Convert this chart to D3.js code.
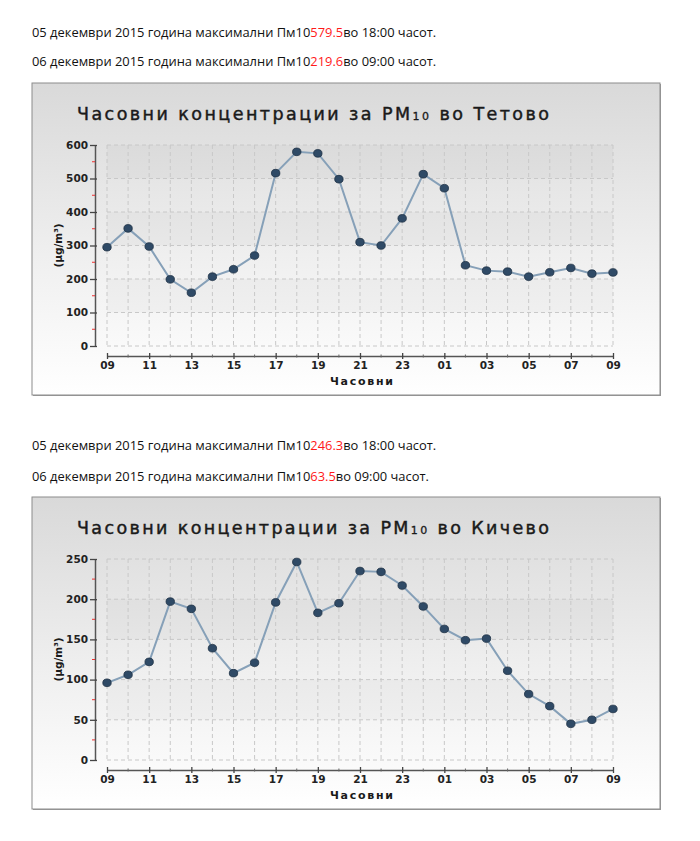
<!DOCTYPE html>
<html lang="mk">
<head>
<meta charset="UTF-8">
<title>Часовни концентрации PM10</title>
<style>
  body { margin: 0; background: #fff; }
  svg { display: block; }
</style>
<script src="https://cdn.jsdelivr.net/npm/d3@7"></script>
</head>
<body>
<div id="page"></div>
<script>
// hours on the x axis (24h window, 09 -> 09 next day)
var hourLabels = ['09','10','11','12','13','14','15','16','17','18','19','20','21','22','23',
                  '00','01','02','03','04','05','06','07','08','09'];

var tetovoValues  = [295, 351, 297, 199, 159, 207, 229, 270, 516, 579.5, 575, 498, 310, 300, 381,
                     513, 471, 241, 225, 222, 207, 220, 233, 216, 219.6];
var kichevoValues = [96, 106, 122, 197, 188, 139, 108, 121, 196, 246.3, 183, 195, 235, 234, 217,
                     191, 163, 149, 151, 111, 82, 67, 45, 50, 63.5];

var stations   = ['Тетово', 'Кичево'];
var yMaxes     = [600, 250];
var yMajorStep = [100, 50];

var headerDates  = ['05 декември 2015', '06 декември 2015'];
var tetovoMax    = ['579.5', '219.6'];
var kichevoMax   = ['246.3', '63.5'];
var maxHours     = ['18:00', '09:00'];

var W = 700, H = 841;

var svg = d3.select('#page').append('svg')
    .attr('width', W)
    .attr('height', H);

var defs = svg.append('defs');
var grad = defs.append('linearGradient')
    .attr('id', 'boxGrad')
    .attr('x1', 0).attr('y1', 0).attr('x2', 0).attr('y2', 1);
grad.append('stop').attr('offset', '0%').attr('stop-color', '#d9d9d9');
grad.append('stop').attr('offset', '55%').attr('stop-color', '#efefef');
grad.append('stop').attr('offset', '100%').attr('stop-color', '#ffffff');

function header(y, date, value, hour) {
    var t = svg.append('text')
        .attr('x', 32)
        .attr('y', y)
        .style('font-family', '"Open Sans", sans-serif')
        .style('font-size', '12.9px')
        .style('fill', '#111');
    t.append('tspan').text(date + ' година максимални Пм10');
    t.append('tspan').style('fill', '#ff1a1a').text(value);
    t.append('tspan').text('во ' + hour + ' часот.');
}

function drawChart(top, station, values, yMax, step) {
    var left = 32, right = 660, boxH = 312;
    var g = svg.append('g');

    g.append('rect')
        .attr('x', left + 1).attr('y', top + 1)
        .attr('width', right - left).attr('height', boxH)
        .attr('fill', '#9a9a9a');
    g.append('rect')
        .attr('x', left).attr('y', top)
        .attr('width', right - left).attr('height', boxH)
        .attr('fill', 'url(#boxGrad)')
        .attr('stroke', '#8c8c8c')
        .attr('stroke-width', 1);

    var x = d3.scaleLinear().domain([0, hourLabels.length - 1]).range([107, 613]);
    var y = d3.scaleLinear().domain([0, yMax]).range([top + 263, top + 62]);

    // alternating bands
    var bands = d3.range(0, yMax, step).filter(function (d, i) { return i % 2 === 1; });
    g.selectAll('.band').data(bands).join('rect')
        .attr('x', x(0)).attr('width', x(hourLabels.length - 1) - x(0))
        .attr('y', function (d) { return y(d + step); })
        .attr('height', function (d) { return y(d) - y(d + step); })
        .attr('fill', '#000').attr('fill-opacity', 0.025);

    // grid
    g.selectAll('.vgrid').data(d3.range(hourLabels.length)).join('line')
        .attr('x1', function (d) { return x(d); }).attr('x2', function (d) { return x(d); })
        .attr('y1', y(yMax)).attr('y2', y(0))
        .attr('stroke', '#c8c8c8').attr('stroke-dasharray', '4,3');
    g.selectAll('.hgrid').data(d3.range(0, yMax + 1, step)).join('line')
        .attr('x1', x(0)).attr('x2', x(hourLabels.length - 1))
        .attr('y1', function (d) { return y(d); }).attr('y2', function (d) { return y(d); })
        .attr('stroke', '#c8c8c8').attr('stroke-dasharray', '4,3');

    // title
    var title = g.append('text')
        .attr('x', 77).attr('y', top + 37)
        .attr('textLength', 472).attr('lengthAdjust', 'spacing')
        .style('font-family', '"DejaVu Sans", sans-serif')
        .style('font-size', '17.5px')
        .style('fill', '#1a1a1a')
        .style('stroke', '#1a1a1a').style('stroke-width', 0.45);
    title.append('tspan').text('Часовни концентрации за PM');
    title.append('tspan').style('font-size', '11px').style('stroke-width', 0.3).text('10');
    title.append('tspan').text(' во ' + station);

    var tickFont = function (sel) {
        sel.style('font-family', '"DejaVu Sans", sans-serif')
            .style('font-weight', 'bold').style('font-size', '10.5px').style('fill', '#222');
    };

    // y axis
    var yAxis = d3.axisLeft(y).tickValues(d3.range(0, yMax + 1, step))
        .tickSizeInner(5).tickSizeOuter(0).tickPadding(2);
    var ya = g.append('g').attr('transform', 'translate(95,0)').call(yAxis);
    ya.select('.domain').attr('stroke', '#555').attr('stroke-width', 1.5);
    ya.selectAll('.tick line').attr('stroke', '#444').attr('x2', -5).attr('x1', 2).attr('stroke-width', 1.3);
    ya.selectAll('.tick text').call(tickFont);
    ya.selectAll('.minor').data(d3.range(step / 2, yMax, step)).join('line')
        .attr('x1', -3).attr('x2', 0)
        .attr('y1', function (d) { return y(d); }).attr('y2', function (d) { return y(d); })
        .attr('stroke', '#f03030').attr('stroke-width', 1);

    // x axis
    var xAxis = d3.axisBottom(x)
        .tickValues(d3.range(0, hourLabels.length, 2))
        .tickFormat(function (d) { return hourLabels[d]; })
        .tickSizeInner(3).tickSizeOuter(0).tickPadding(3);
    var xa = g.append('g').attr('transform', 'translate(0,' + (top + 273) + ')').call(xAxis);
    xa.select('.domain').attr('stroke', '#555').attr('stroke-width', 1.5);
    xa.selectAll('.tick line').attr('stroke', '#444').attr('y1', -3).attr('y2', 3).attr('stroke-width', 1.3);
    xa.selectAll('.tick text').call(tickFont);
    xa.selectAll('.minor').data(d3.range(1, hourLabels.length, 2)).join('line')
        .attr('x1', function (d) { return x(d); }).attr('x2', function (d) { return x(d); })
        .attr('y1', -1.5).attr('y2', 1.5)
        .attr('stroke', '#666');

    // axis titles
    g.append('text')
        .attr('x', 330).attr('y', top + 302)
        .attr('textLength', 63).attr('lengthAdjust', 'spacing')
        .style('font-family', '"DejaVu Sans", sans-serif')
        .style('font-weight', 'bold').style('font-size', '11px').style('fill', '#1a1a1a')
        .text('Часовни');
    g.append('text')
        .attr('transform', 'translate(62,' + ((y(0) + y(yMax)) / 2) + ') rotate(-90)')
        .attr('text-anchor', 'middle')
        .style('font-family', '"DejaVu Sans", sans-serif')
        .style('font-weight', 'bold').style('font-size', '10.5px').style('fill', '#1a1a1a')
        .text('(µg/m³)');

    // series
    var line = d3.line()
        .x(function (d, i) { return x(i); })
        .y(function (d) { return y(d); });
    g.append('path').datum(values)
        .attr('d', line)
        .attr('fill', 'none')
        .attr('stroke', '#86a0b8')
        .attr('stroke-width', 2);
    g.selectAll('.dot').data(values).join('ellipse')
        .attr('cx', function (d, i) { return x(i); })
        .attr('cy', function (d) { return y(d); })
        .attr('rx', 4.2).attr('ry', 3.8)
        .attr('fill', '#2f4a66')
        .attr('stroke', '#1d3044').attr('stroke-width', 0.8);
}

header(37, headerDates[0], tetovoMax[0], maxHours[0]);
header(66, headerDates[1], tetovoMax[1], maxHours[1]);
drawChart(83, stations[0], tetovoValues, yMaxes[0], yMajorStep[0]);

header(450, headerDates[0], kichevoMax[0], maxHours[0]);
header(481, headerDates[1], kichevoMax[1], maxHours[1]);
drawChart(497, stations[1], kichevoValues, yMaxes[1], yMajorStep[1]);
</script>
</body>
</html>
